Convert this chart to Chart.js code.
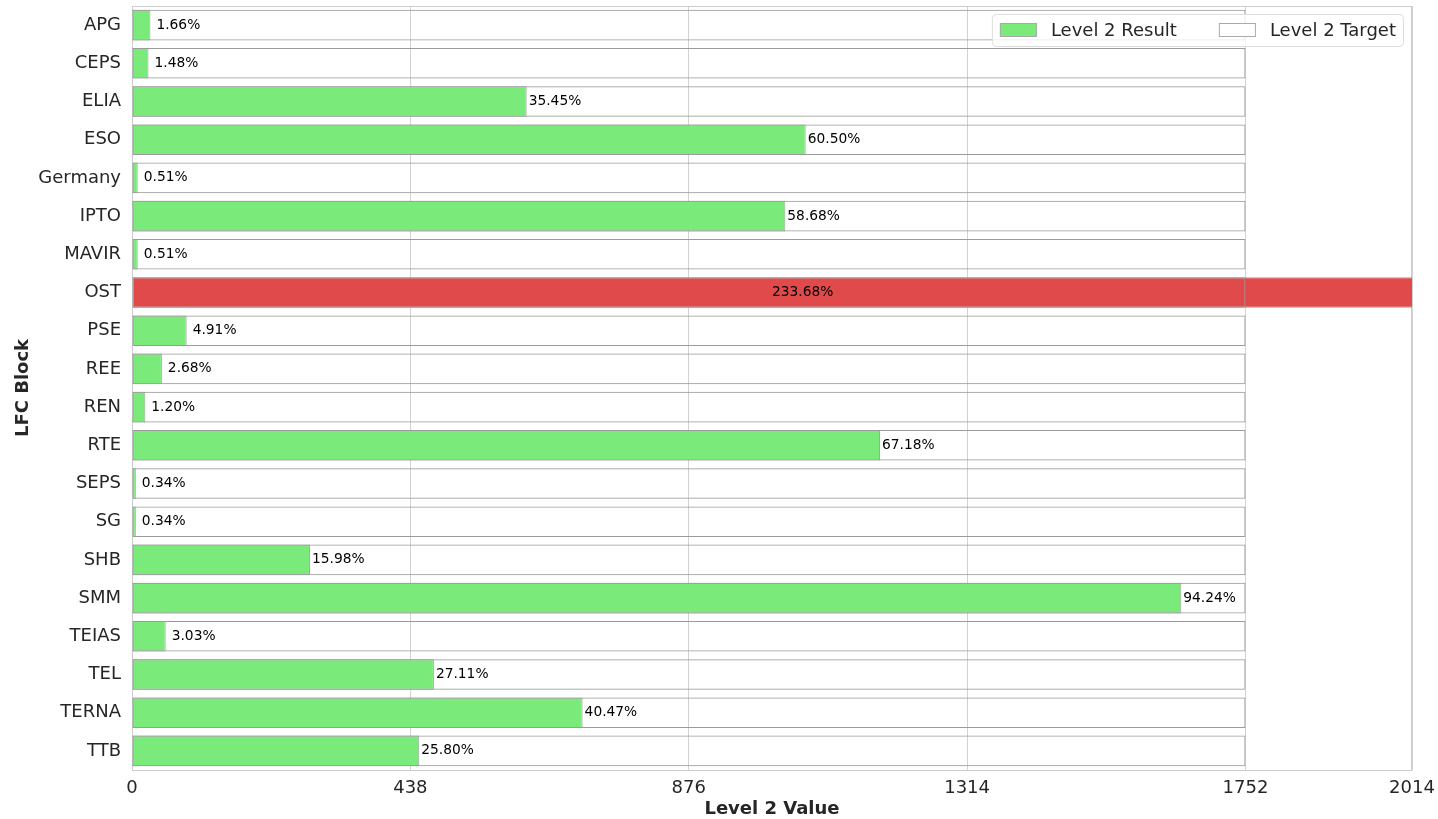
<!DOCTYPE html>
<html>
<head>
<meta charset="utf-8">
<script src="https://cdn.jsdelivr.net/npm/chart.js@4/dist/chart.umd.min.js"></script>
<style>
  html, body { margin: 0; padding: 0; background: #fff; }
  #wrap { width: 1438px; height: 819px; }
</style>
</head>
<body>
<div id="wrap"><canvas id="chart"></canvas></div>
<script>
// LFC blocks and their level 2 numbers
const blocks = ['APG', 'CEPS', 'ELIA', 'ESO', 'Germany', 'IPTO', 'MAVIR', 'OST', 'PSE', 'REE',
    'REN', 'RTE', 'SEPS', 'SG', 'SHB', 'SMM', 'TEIAS', 'TEL', 'TERNA', 'TTB'];
const resultValues = [29, 26, 621, 1060, 9, 1028, 9, 4094, 86, 47,
    21, 1177, 6, 6, 280, 1651, 53, 475, 709, 452];
const targetValues = [1752, 1752, 1752, 1752, 1752, 1752, 1752, 1752, 1752, 1752,
    1752, 1752, 1752, 1752, 1752, 1752, 1752, 1752, 1752, 1752];
const percentLabels = ['1.66%', '1.48%', '35.45%', '60.50%', '0.51%', '58.68%', '0.51%', '233.68%', '4.91%', '2.68%',
    '1.20%', '67.18%', '0.34%', '0.34%', '15.98%', '94.24%', '3.03%', '27.11%', '40.47%', '25.80%'];
const xTicks = [0, 438, 876, 1314, 1752, 2014];

const GREEN = '#7aeb7a';
const RED = '#e14a4a';
const FONT = "'DejaVu Sans', sans-serif";

// Result bar colour: red when over target
const resultColors = resultValues.map((v, i) => v > targetValues[i] ? RED : GREEN);

// Frame around plot area
const framePlugin = {
    id: 'frame',
    beforeDatasetsDraw(chart) {
        const { ctx, chartArea: a } = chart;
        ctx.save();
        ctx.strokeStyle = '#cccccc';
        ctx.lineWidth = 1;
        ctx.strokeRect(a.left + 0.5, a.top + 0.5, a.right - a.left - 1, a.bottom - a.top);
        ctx.restore();
    }
};

// Percent labels next to the result bars
const labelPlugin = {
    id: 'barLabels',
    afterDatasetsDraw(chart) {
        const { ctx, scales } = chart;
        const meta = chart.getDatasetMeta(1);
        ctx.save();
        ctx.font = '13.8px ' + FONT;
        ctx.fillStyle = '#000';
        ctx.textBaseline = 'middle';
        ctx.textAlign = 'left';
        meta.data.forEach((bar, i) => {
            const v = resultValues[i];
            let x;
            if (v > scales.x.max) {
                x = scales.x.getPixelForValue(scales.x.max / 2);
            } else {
                x = bar.x + (v < 200 ? 6 : 2);
            }
            ctx.fillText(percentLabels[i], x, bar.y);
        });
        ctx.restore();
    }
};

// Legend box inside the plot, top right
const legendPlugin = {
    id: 'innerLegend',
    afterDraw(chart) {
        const { ctx, chartArea: a } = chart;
        const items = [
            { text: 'Level 2 Result', fill: GREEN },
            { text: 'Level 2 Target', fill: '#ffffff' }
        ];
        ctx.save();
        ctx.font = '18px ' + FONT;
        const swW = 37, swH = 14, gapText = 14, colGap = 42, pad = 8;
        let w = pad * 2 - 1;
        items.forEach((it, i) => {
            w += swW + gapText + ctx.measureText(it.text).width;
            if (i > 0) w += colGap;
        });
        const h = 32;
        const right = a.right - 9, top = a.top + 8;
        const left = right - w;
        ctx.fillStyle = 'rgba(255,255,255,0.8)';
        ctx.strokeStyle = '#dddddd';
        ctx.lineWidth = 1;
        ctx.beginPath();
        ctx.roundRect(left + 0.5, top + 0.5, w, h, 4);
        ctx.fill();
        ctx.stroke();
        let x = left + pad;
        const cy = top + h / 2;
        items.forEach((it, i) => {
            if (i > 0) x += colGap;
            ctx.fillStyle = it.fill;
            ctx.fillRect(x, cy - swH / 2, swW, swH);
            ctx.strokeStyle = '#aaaaaa';
            ctx.strokeRect(x + 0.5, cy - swH / 2 + 0.5, swW - 1, swH - 1);
            x += swW + gapText;
            ctx.fillStyle = '#262626';
            ctx.textBaseline = 'middle';
            ctx.fillText(it.text, x, cy + 1);
            x += ctx.measureText(it.text).width;
        });
        ctx.restore();
    }
};

const ctx = document.getElementById('chart').getContext('2d');
new Chart(ctx, {
    type: 'bar',
    data: {
        labels: blocks,
        datasets: [
            {
                label: 'Level 2 Target',
                data: targetValues,
                backgroundColor: 'rgba(255,255,255,0)',
                borderColor: '#9a9a9a',
                borderWidth: 1,
                borderSkipped: false,
                grouped: false,
                barPercentage: 0.8,
                categoryPercentage: 1,
                order: 1
            },
            {
                label: 'Level 2 Result',
                data: resultValues,
                backgroundColor: resultColors,
                borderColor: '#a0a0a0',
                borderWidth: 1,
                borderSkipped: false,
                grouped: false,
                barPercentage: 0.8,
                categoryPercentage: 1,
                order: 2
            }
        ]
    },
    options: {
        indexAxis: 'y',
        responsive: true,
        maintainAspectRatio: false,
        animation: false,
        layout: { padding: { top: 6, right: 26, left: 0, bottom: 0 } },
        scales: {
            x: {
                min: 0,
                max: 2014,
                afterBuildTicks(axis) {
                    axis.ticks = xTicks.map(v => ({ value: v }));
                },
                afterFit(scale) {
                    scale.height = 49;
                    scale.paddingLeft = 0;
                    scale.paddingRight = 0;
                },
                grid: { color: '#d2d2d2', drawTicks: false },
                border: { display: false },
                ticks: {
                    padding: 8,
                    color: '#262626',
                    font: { family: FONT, size: 18 },
                    maxRotation: 0,
                    autoSkip: false,
                    callback: v => String(v)
                },
                title: {
                    display: true,
                    text: 'Level 2 Value',
                    color: '#262626',
                    font: { family: FONT, size: 18, weight: 'bold' },
                    padding: { top: 0, bottom: -1 }
                }
            },
            y: {
                afterFit(scale) {
                    scale.width = 132;
                    scale.paddingTop = 0;
                    scale.paddingBottom = 0;
                },
                grid: { display: false, drawTicks: false },
                border: { display: false },
                ticks: {
                    padding: 11,
                    color: '#262626',
                    font: { family: FONT, size: 18 },
                    autoSkip: false
                },
                title: {
                    display: true,
                    text: 'LFC Block',
                    color: '#262626',
                    font: { family: FONT, size: 18, weight: 'bold' },
                    padding: { top: 13, bottom: 6 }
                }
            }
        },
        plugins: {
            legend: { display: false },
            tooltip: { enabled: false }
        }
    },
    plugins: [framePlugin, labelPlugin, legendPlugin]
});
</script>
</body>
</html>
